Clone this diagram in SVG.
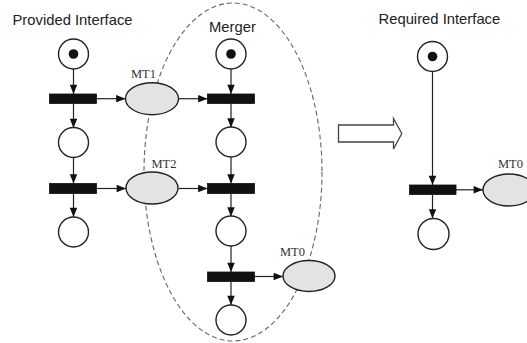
<svg xmlns="http://www.w3.org/2000/svg" width="527" height="343" viewBox="0 0 527 343">
<style>
.pl{fill:#fff;stroke:#222;stroke-width:1.4}
.tk{fill:#111}
.tr{fill:#111;stroke:#111;stroke-width:0.8}
.mt{fill:#e3e3e3;stroke:#222;stroke-width:1.4}
.ar{stroke:#222;stroke-width:1.2;fill:none;marker-end:url(#ah)}
.lb{font-family:"Liberation Sans",Arial,sans-serif;font-size:14.8px;fill:#222}
.ml{font-family:"Liberation Serif","Times New Roman",serif;font-size:12.5px;fill:#333}
</style>
<defs>
<marker id="ah" viewBox="0 0 10 8" refX="10" refY="4" markerWidth="10" markerHeight="7.5" markerUnits="userSpaceOnUse" orient="auto">
<path d="M0,0 L10,4 L0,8 Z" fill="#111"/>
</marker>
</defs>
<rect width="527" height="343" fill="#fff"/>
<ellipse id="merger-boundary" cx="233" cy="172" rx="89" ry="169" fill="none" stroke="#666" stroke-width="1.1" stroke-dasharray="5,3"/>
<g id="connectors">
<line class="ar" x1="73.5" y1="69" x2="73.5" y2="94"/>
<line class="ar" x1="73.5" y1="103.5" x2="73.5" y2="128"/>
<line class="ar" x1="73.5" y1="157.5" x2="73.5" y2="183.5"/>
<line class="ar" x1="73.5" y1="193.5" x2="73.5" y2="217"/>
<line class="ar" x1="96.5" y1="98.7" x2="125.5" y2="98.7"/>
<line class="ar" x1="96.5" y1="188.5" x2="126" y2="188.5"/>
<line class="ar" x1="178.5" y1="98.7" x2="207.5" y2="98.7"/>
<line class="ar" x1="178.5" y1="188.5" x2="207.5" y2="188.5"/>
<line class="ar" x1="231" y1="69" x2="231" y2="94"/>
<line class="ar" x1="231" y1="103.5" x2="231" y2="127.5"/>
<line class="ar" x1="231" y1="157" x2="231" y2="183.5"/>
<line class="ar" x1="231" y1="193.5" x2="231" y2="216.5"/>
<line class="ar" x1="231" y1="246" x2="231" y2="272"/>
<line class="ar" x1="231" y1="281.5" x2="231" y2="305"/>
<line class="ar" x1="254.5" y1="276.5" x2="283" y2="276.5"/>
<line class="ar" x1="432.5" y1="71.5" x2="432.5" y2="185"/>
<line class="ar" x1="432.5" y1="194.5" x2="432.5" y2="218.5"/>
<line class="ar" x1="456" y1="189.8" x2="483" y2="189.8"/>
</g>
<g id="provided-interface">
<text class="lb" x="12.5" y="25">Provided Interface</text>
<g id="p-start"><circle class="pl" cx="73.5" cy="54" r="15"/><circle class="tk" cx="73.5" cy="54" r="4.8"/></g>
<rect id="p-t1" class="tr" x="49.5" y="94" width="47" height="9.5"/>
<circle id="p-p2" class="pl" cx="73.5" cy="142.5" r="15"/>
<rect id="p-t2" class="tr" x="49.5" y="183.5" width="47" height="10"/>
<circle id="p-p3" class="pl" cx="73.5" cy="232" r="15"/>
</g>
<g id="mt1"><ellipse class="mt" cx="152" cy="98.7" rx="26.5" ry="16"/><text class="ml" x="131" y="77.5">MT1</text></g>
<g id="mt2"><ellipse class="mt" cx="152" cy="188" rx="26" ry="16"/><text class="ml" x="151.5" y="167.5">MT2</text></g>
<g id="merger">
<text class="lb" x="209" y="32">Merger</text>
<g id="m-start"><circle class="pl" cx="231" cy="54" r="15"/><circle class="tk" cx="231" cy="54" r="4.8"/></g>
<rect id="m-t1" class="tr" x="207.5" y="94" width="47" height="9.5"/>
<circle id="m-p2" class="pl" cx="231" cy="142" r="15"/>
<rect id="m-t2" class="tr" x="207.5" y="183.5" width="47" height="10"/>
<circle id="m-p3" class="pl" cx="231" cy="231" r="15"/>
<rect id="m-t3" class="tr" x="207.5" y="272" width="47" height="9.5"/>
<circle id="m-p4" class="pl" cx="231" cy="320" r="15"/>
</g>
<g id="mt0-merger"><ellipse class="mt" cx="309" cy="276" rx="26" ry="15.5"/><text class="ml" x="280" y="255.5">MT0</text></g>
<g id="transform-arrow">
<path d="M338.5,125 L393.5,125 L393.5,118.5 L401.8,133.5 L393.5,149 L393.5,142 L338.5,142 Z" fill="#fff" stroke="#444" stroke-width="1.3"/>
</g>
<g id="required-interface">
<text class="lb" x="378.5" y="23.5">Required Interface</text>
<g id="r-start"><circle class="pl" cx="432.5" cy="56.5" r="15"/><circle class="tk" cx="432.5" cy="56.5" r="4.8"/></g>
<rect id="r-t1" class="tr" x="409.5" y="185" width="46.5" height="9.5"/>
<circle id="r-p2" class="pl" cx="433.5" cy="234" r="15.5"/>
</g>
<g id="mt0-required"><ellipse class="mt" cx="509" cy="190" rx="26" ry="16"/><text class="ml" x="498" y="167.5">MT0</text></g>
</svg>
